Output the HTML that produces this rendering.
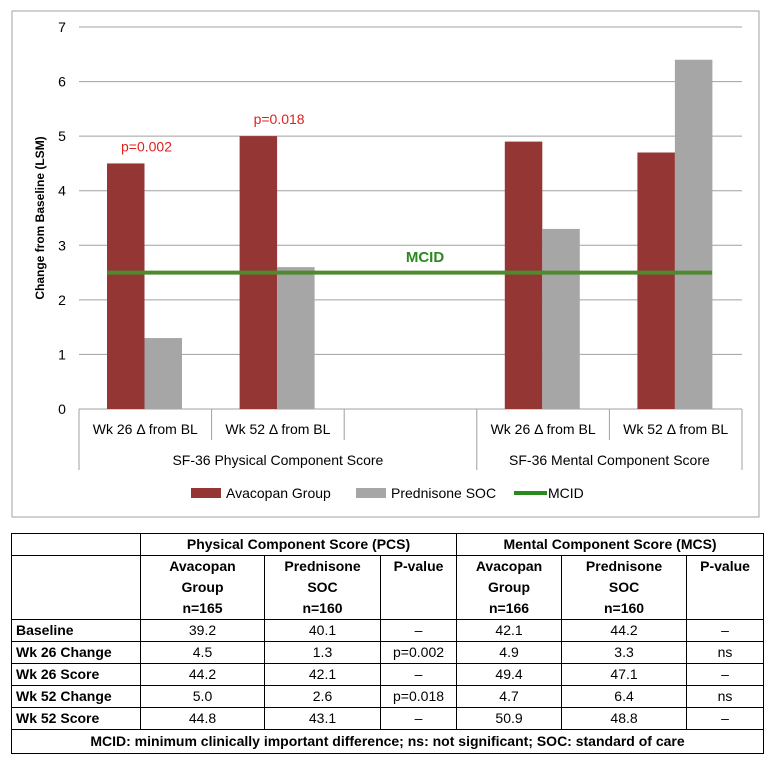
<!DOCTYPE html>
<html><head><meta charset="utf-8">
<style>
body{margin:0;background:#fff;width:779px;height:773px;position:relative;overflow:hidden;font-family:"Liberation Sans",sans-serif;}
svg{position:absolute;left:0;top:0}
table{position:absolute;left:11px;top:533px;border-collapse:collapse;table-layout:fixed;width:752px;font-size:14px;}
td{border:1px solid #000;text-align:center;padding:0;height:21px;line-height:21px;}
td.l{text-align:left;font-weight:bold;padding-left:4px}
th{border:1px solid #000;font-weight:bold;font-size:14px;padding:0;line-height:21px}
</style></head><body>
<svg width="779" height="530">
<rect x="12" y="11" width="747" height="506" fill="#fff" stroke="#a0a0a0"/>
<g id="grid"></g><g id="bars"></g><g id="axis"></g>
<text x="44" y="218" transform="rotate(-90 44 218)" text-anchor="middle" font-size="12" font-weight="bold">Change from Baseline (LSM)</text>
<line x1="107" y1="272.5" x2="712" y2="272.5" stroke="#4f8a2f" stroke-width="4" id="mcid"/>
<text x="425" y="262" text-anchor="middle" font-size="15" font-weight="bold" fill="#2a8a1e">MCID</text>
<g>
<rect x="191" y="488" width="30" height="10" fill="#943634"/>
<text x="226" y="498" font-size="14">Avacopan Group</text>
<rect x="356" y="488" width="30" height="10" fill="#a6a6a6"/>
<text x="391" y="498" font-size="14">Prednisone SOC</text>
<line x1="514" y1="493" x2="547" y2="493" stroke="#2a8a1e" stroke-width="4"/>
<text x="548" y="498" font-size="14">MCID</text>
</g>
</svg>
<script>
const categories=["Wk 26 Δ from BL","Wk 52 Δ from BL","","Wk 26 Δ from BL","Wk 52 Δ from BL"];
const avacopan=[4.5,5.0,null,4.9,4.7];
const prednisone=[1.3,2.6,null,3.3,6.4];
const pLabels=["p=0.002","p=0.018","","",""];
const yTicks=[0,1,2,3,4,5,6,7];
const mcidValue=2.5;
const groups=["SF-36 Physical Component Score","SF-36 Mental Component Score"];
const NS="http://www.w3.org/2000/svg";
const L=79,R=742,Y0=409,Y7=27,ymax=7;
const y=v=>Y0-(v/ymax)*(Y0-Y7);
const sw=(R-L)/categories.length;
const x=i=>L+i*sw;
function mk(t,a,p){const e=document.createElementNS(NS,t);for(const k in a)e.setAttribute(k,a[k]);p.appendChild(e);return e;}
const grid=document.getElementById('grid'),bars=document.getElementById('bars'),axis=document.getElementById('axis');
yTicks.forEach(v=>{
 const ln=mk('line',{x1:L,x2:R,y1:y(v),y2:y(v),stroke:'#a0a0a0','stroke-width':1},grid);
 
 
 const t=mk('text',{x:62,y:y(v)+5,'font-size':14,'text-anchor':'middle'},grid);t.textContent=v;
 
 
});
const bw=37.5,off=28;
categories.forEach((c,i)=>{
 if(avacopan[i]!=null){
  const r=mk('rect',{x:x(i)+off,y:y(avacopan[i]),width:bw,height:Y0-y(avacopan[i]),fill:'#943634'},bars);
  
  
  const g=mk('rect',{x:x(i)+off+bw,y:y(prednisone[i]),width:bw,height:Y0-y(prednisone[i]),fill:'#a6a6a6'},bars);
  
  
 }
 if(pLabels[i]){
  const t=mk('text',{x:x(i)+off+bw+2,y:y(avacopan[i])-12,'font-size':14,fill:'#e0201e','text-anchor':'middle'},bars);t.textContent=pLabels[i];
  
  
 }
 if(c){
  const t=mk('text',{x:x(i)+sw/2,y:434,'font-size':14,'text-anchor':'middle'},axis);t.textContent=c;
  
  
 }
});
for(let i=0;i<=categories.length;i++){
 const full=(i===0||i===3||i===5);
 const ln=mk('line',{x1:x(i),x2:x(i),y1:Y0,y2:full?470:440,stroke:'#a0a0a0'},axis);
 
 
}
[[0,3],[3,5]].forEach((g,k)=>{
 const t=mk('text',{x:(x(g[0])+x(g[1]))/2,y:465,'font-size':14,'text-anchor':'middle'},axis);t.textContent=groups[k];
 
 
});
const m=document.getElementById('mcid');m.setAttribute('y1',y(mcidValue));m.setAttribute('y2',y(mcidValue));
</script>
<table>
<colgroup><col style="width:129px"><col style="width:124px"><col style="width:116px"><col style="width:76px"><col style="width:105px"><col style="width:125px"><col style="width:77px"></colgroup>
<tr style="height:22px"><th></th><th colspan="3">Physical Component Score (PCS)</th><th colspan="3">Mental Component Score (MCS)</th></tr>
<tr style="height:64px;vertical-align:top"><th></th><th>Avacopan<br>Group<br>n=165</th><th>Prednisone<br>SOC<br>n=160</th><th>P-value</th><th>Avacopan<br>Group<br>n=166</th><th>Prednisone<br>SOC<br>n=160</th><th>P-value</th></tr>
<tr><td class="l">Baseline</td><td>39.2</td><td>40.1</td><td>–</td><td>42.1</td><td>44.2</td><td>–</td></tr>
<tr><td class="l">Wk 26 Change</td><td>4.5</td><td>1.3</td><td>p=0.002</td><td>4.9</td><td>3.3</td><td>ns</td></tr>
<tr><td class="l">Wk 26 Score</td><td>44.2</td><td>42.1</td><td>–</td><td>49.4</td><td>47.1</td><td>–</td></tr>
<tr><td class="l">Wk 52 Change</td><td>5.0</td><td>2.6</td><td>p=0.018</td><td>4.7</td><td>6.4</td><td>ns</td></tr>
<tr><td class="l">Wk 52 Score</td><td>44.8</td><td>43.1</td><td>–</td><td>50.9</td><td>48.8</td><td>–</td></tr>
<tr><td colspan="7" style="font-weight:bold;height:23px">MCID: minimum clinically important difference; ns: not significant; SOC: standard of care</td></tr>
</table>
</body></html>
